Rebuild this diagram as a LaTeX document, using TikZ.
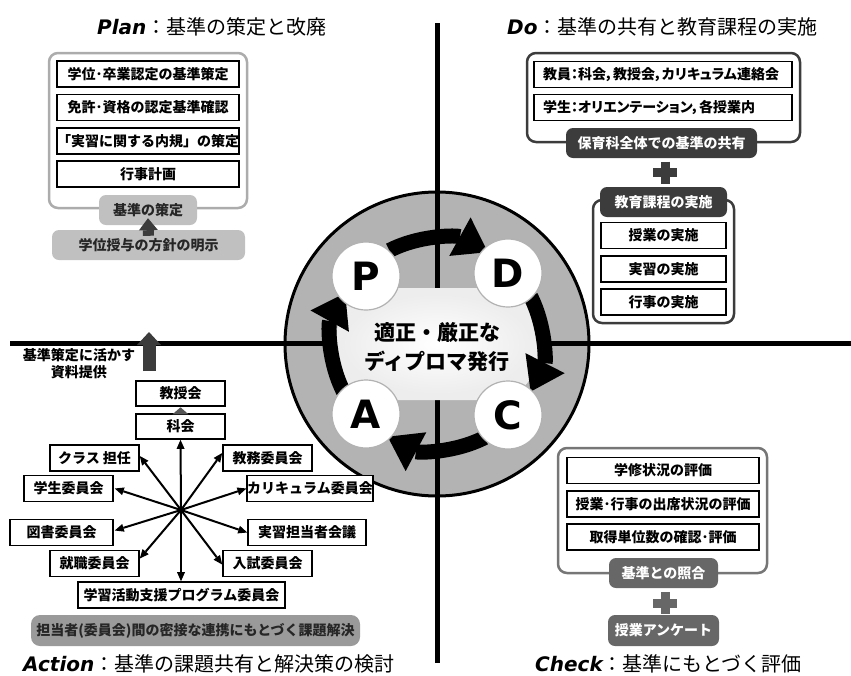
\documentclass[tikz,border=0pt]{standalone}
\usepackage{fontspec}
\setmainfont{Noto Sans CJK JP}
\newfontfamily\lat{DejaVu Sans}
\usetikzlibrary{arrows.meta}
\definecolor{darkg}{HTML}{3C3C3C}
\definecolor{midg}{HTML}{676767}
\definecolor{lightg}{HTML}{C0C0C0}
\definecolor{actg}{HTML}{9A9A9A}
\definecolor{circg}{HTML}{B3B3B3}
\definecolor{innerg}{HTML}{EDEDED}
\definecolor{smallarr}{HTML}{555555}
\begin{document}
\begin{tikzpicture}[x=1pt,y=-1pt,
  wbox/.style={draw=black, line width=1.6pt, fill=white, inner sep=0pt, minimum height=26pt, font=\fontsize{14}{15}\selectfont\bfseries},
  gbox/.style={rounded corners=7pt, inner sep=0pt, minimum height=30pt, font=\fontsize{14}{15}\selectfont\bfseries},
  panelframe/.style={rounded corners=9pt, line width=2.5pt, fill=white},
  hdr/.style={anchor=west, inner sep=0pt, font=\fontsize{20}{22}\selectfont},
  ltr/.style={font=\lat\bfseries\fontsize{39}{39}\selectfont, inner sep=0pt},
  pdca/.style={circle, fill=white, draw=gray!60, line width=1.2pt, minimum size=68pt, inner sep=0pt},
  cycarrow/.style={line width=15pt, -{Triangle[width=44pt,length=32pt,line width=0pt]}},
  stararrow/.style={line width=2pt, -{Triangle[width=8pt,length=9pt,line width=0pt]}},
  plus/.style={line width=9pt}
]
\useasboundingbox (0,0) rectangle (851,675);

% ---------- central circle ----------
\coordinate (O) at (437,344);
\fill[circg] (O) circle[radius=152pt];
\draw[line width=5pt] (437,23) -- (437,663);
\draw[line width=5pt] (10,343) -- (851,343);
\draw[line width=3pt] (O) circle[radius=152pt];
\fill[innerg, rounded corners=45pt] (337,288) rectangle (537,400);
\shade[inner color=white, outer color=innerg] (O) ellipse[x radius=95pt, y radius=50pt];

\draw[cycarrow] ([shift={(117:105pt)}]O) arc[start angle=117, end angle=61, radius=105pt];
\draw[cycarrow] ([shift={(27:105pt)}]O) arc[start angle=27, end angle=-27, radius=105pt];
\draw[cycarrow] ([shift={(-63:105pt)}]O) arc[start angle=-63, end angle=-118, radius=105pt];
\draw[cycarrow] ([shift={(-153:105pt)}]O) arc[start angle=-153, end angle=-209, radius=105pt];

\node[pdca] (P) at (366,276) {};
\node[pdca] (D) at (508,273) {};
\node[pdca] (A) at (366,414) {};
\node[pdca] (C) at (508,415) {};
\node[ltr] (Pl) at (P) {P};
\node[ltr] (Dl) at (D) {D};
\node[ltr] (Al) at (A) {A};
\node[ltr] (Cl) at (C) {C};
\node[align=center, font=\fontsize{21}{29}\selectfont\bfseries] (ctr) at (437,347) {適正・厳正な\\ディプロマ発行};

% ---------- headers ----------
\node[hdr] (hplan) at (97,27) {{\lat\bfseries\itshape\fontsize{20}{22}\selectfont Plan}：基準の策定と改廃};
\node[hdr] (hdo) at (507,27) {{\lat\bfseries\itshape\fontsize{20}{22}\selectfont Do}：基準の共有と教育課程の実施};
\node[hdr] (hact) at (23,664) {{\lat\bfseries\itshape\fontsize{20}{22}\selectfont Action}：基準の課題共有と解決策の検討};
\node[hdr] (hchk) at (535,664) {{\lat\bfseries\itshape\fontsize{20}{22}\selectfont Check}：基準にもとづく評価};

% ---------- Plan ----------
\draw[panelframe, draw=gray!65] (49,53) rectangle (247,208);
\node[wbox, minimum width=182pt] (p1) at (148,74) {学位･卒業認定の基準策定};
\node[wbox, minimum width=182pt] (p2) at (148,107.5) {免許･資格の認定基準確認};
\node[wbox, minimum width=182pt] (p3) at (148,141) {「実習に関する内規」の策定};
\node[wbox, minimum width=182pt] (p4) at (148,174) {行事計画};
\node[gbox, fill=lightg, text=black!85, minimum width=98pt] (p5) at (148,210) {基準の策定};
\node[gbox, fill=lightg, text=black!85, minimum width=193pt] (p6) at (148.5,245) {学位授与の方針の明示};
\draw[darkg, line width=11pt, -{Triangle[width=19pt,length=12pt,line width=0pt]}] ([yshift=-6pt]p6.north) -- ([yshift=7pt]p5.south);

% ---------- Do ----------
\draw[panelframe, draw=darkg] (527,53) rectangle (800,142);
\node[wbox, text width=240pt, inner xsep=9pt, align=left, font=\fontsize{14}{15}\selectfont\bfseries\addfontfeatures{RawFeature=+palt}] (d1) at (663,74.5) {教員：科会，教授会，カリキュラム連絡会};
\node[wbox, text width=240pt, inner xsep=9pt, align=left, font=\fontsize{14}{15}\selectfont\bfseries\addfontfeatures{RawFeature=+palt}] (d2) at (663,107.5) {学生：オリエンテーション，各授業内};
\node[gbox, fill=darkg, text=white, minimum width=191pt] (d3) at (661.5,143) {保育科全体での基準の共有};
\draw[plus, darkg] (653,172.5) -- (677,172.5) (665,161.5) -- (665,183.5);
\draw[panelframe, draw=darkg] (593,200) rectangle (734,323);
\node[gbox, fill=darkg, text=white, minimum width=127pt] (d4) at (663.5,202) {教育課程の実施};
\node[wbox, minimum width=125pt] (d5) at (663.5,235.5) {授業の実施};
\node[wbox, minimum width=125pt] (d6) at (663.5,269) {実習の実施};
\node[wbox, minimum width=125pt] (d7) at (663.5,302) {行事の実施};

% ---------- Check ----------
\draw[panelframe, draw=midg!90] (558,448) rectangle (767,573);
\node[wbox, minimum width=192pt] (c1) at (663,470.5) {学修状況の評価};
\node[wbox, minimum width=192pt] (c2) at (663,504) {授業･行事の出席状況の評価};
\node[wbox, minimum width=192pt] (c3) at (663,537) {取得単位数の確認･評価};
\node[gbox, fill=midg, text=white, minimum width=109pt] (c4) at (663.5,573) {基準との照合};
\draw[plus, midg] (653,603) -- (677,603) (665,592) -- (665,614);
\node[gbox, fill=midg, text=white, minimum width=111pt, minimum height=31pt] (c5) at (663.5,630.5) {授業アンケート};

% ---------- Action ----------
\node[align=center, font=\fontsize{14}{17}\selectfont\bfseries, inner sep=0pt] (a0) at (79,364) {基準策定に活かす\\資料提供};
\coordinate (ar1) at (149,371);
\coordinate (ar2) at (149,332);
\draw[darkg, line width=13pt, -{Triangle[width=24pt,length=13pt,line width=0pt]}] (ar1) -- (ar2);

\node[wbox, minimum width=89pt, minimum height=25pt] (a1) at (180.5,393.5) {教授会};
\node[wbox, minimum width=89pt, minimum height=25pt] (a2) at (180.5,426.5) {科会};
\draw[smallarr, line width=7pt, -{Triangle[width=16pt,length=7pt,line width=0pt]}] ([yshift=1pt]a2.north) -- ([yshift=-0.5pt]a1.south);

\coordinate (S) at (181,510);
\node[wbox, minimum width=89pt] (a3) at (94.5,458) {クラス 担任};
\node[wbox, minimum width=89pt] (a4) at (267.5,458) {教務委員会};
\node[wbox, minimum width=89pt] (a5) at (68.5,488.5) {学生委員会};
\node[wbox, minimum width=124pt] (a6) at (310,488.5) {カリキュラム委員会};
\node[wbox, minimum width=103pt] (a7) at (61.5,532.5) {図書委員会};
\node[wbox, minimum width=118pt] (a8) at (307,532.5) {実習担当者会議};
\node[wbox, minimum width=89pt] (a9) at (94.5,563.5) {就職委員会};
\node[wbox, minimum width=89pt] (a10) at (267.5,563.5) {入試委員会};
\node[wbox, minimum width=207pt] (a11) at (181.5,595) {学習活動支援プログラム委員会};

\draw[stararrow] (S) -- (a2.south);
\draw[stararrow] (S) -- (a11.north -| S);
\draw[stararrow] (S) -- ([yshift=2pt]a3.east);
\draw[stararrow] (S) -- ([yshift=5pt]a4.west);
\draw[stararrow] (S) -- ([xshift=1pt]a5.east);
\draw[stararrow] (S) -- (a6.west);
\draw[stararrow] (S) -- ([xshift=1pt,yshift=2pt]a7.east);
\draw[stararrow] (S) -- (a8.west);
\draw[stararrow] (S) -- ([yshift=5pt]a9.east);
\draw[stararrow] (S) -- ([yshift=-1pt]a10.west);

\node[gbox, fill=actg, text=black!85, minimum width=329pt, minimum height=31pt, rounded corners=9pt] (a12) at (195.5,630.5) {担当者(委員会)間の密接な連携にもとづく課題解決};
\end{tikzpicture}
\end{document}
